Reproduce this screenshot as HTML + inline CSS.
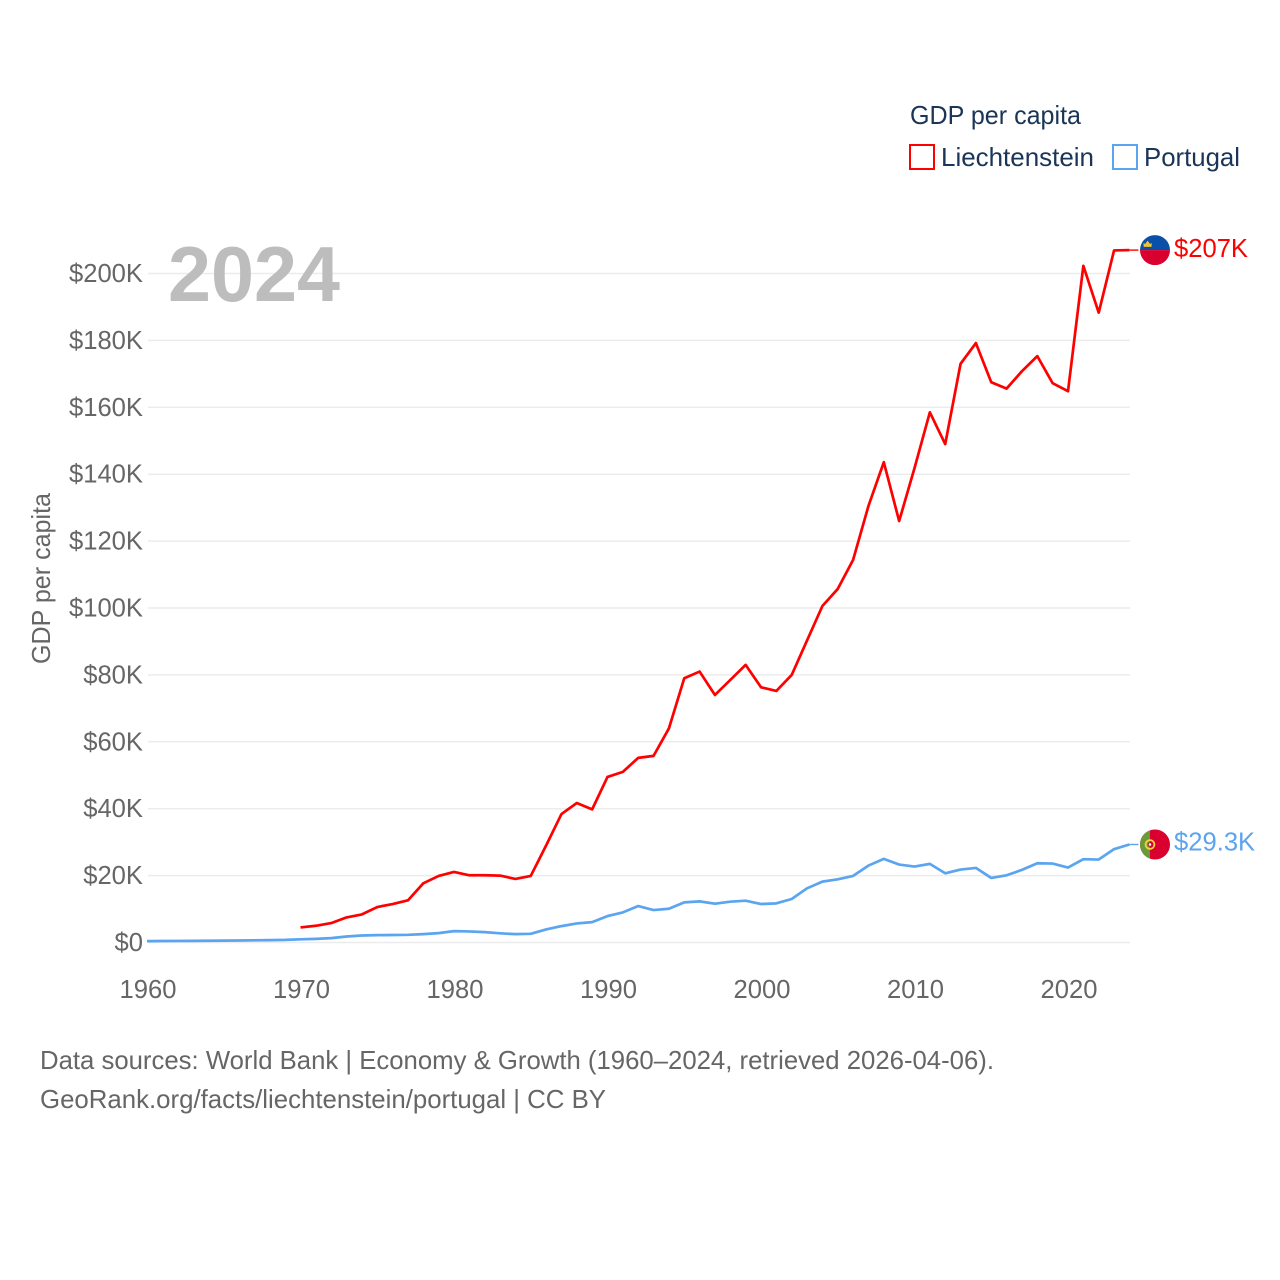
<!DOCTYPE html>
<html lang="en">
<head>
<meta charset="utf-8">
<title>GDP per capita: Liechtenstein and Portugal</title>
<style>
html,body{margin:0;padding:0;background:#fff;width:1280px;height:1280px;overflow:hidden}
svg{display:block}
text{font-family:"Liberation Sans",sans-serif}
</style>
</head>
<body>
<svg id="chart" xmlns="http://www.w3.org/2000/svg" width="1280" height="1280" viewBox="0 0 1280 1280">
  <defs>
    <clipPath id="flag-clip"><circle cx="0" cy="0" r="15"></circle></clipPath>
  </defs>
  <rect x="0" y="0" width="1280" height="1280" fill="#ffffff"></rect>

  <g id="grid"></g>
  <g id="y-ticks"></g>
  <g id="x-ticks"></g>

  <text x="168" y="301" font-size="78" font-weight="700" fill="#bdbdbd" textLength="172" lengthAdjust="spacingAndGlyphs">2024</text>
  <text transform="translate(50,664) rotate(-90)" font-size="25.6" fill="#666666" textLength="171" lengthAdjust="spacingAndGlyphs">GDP per capita</text>

  <g id="series"></g>
  <g id="ends"></g>

  <g>
    <text x="910" y="124" font-size="26" fill="#1a3557" textLength="171" lengthAdjust="spacingAndGlyphs">GDP per capita</text>
    <rect x="910" y="145" width="24" height="24" fill="none" stroke="#ff0000" stroke-width="2"></rect>
    <text x="941" y="166" font-size="26" fill="#1a3557" textLength="153" lengthAdjust="spacingAndGlyphs">Liechtenstein</text>
    <rect x="1113" y="145" width="24" height="24" fill="none" stroke="#5ba4f0" stroke-width="2"></rect>
    <text x="1144" y="166" font-size="26" fill="#1a3557" textLength="96" lengthAdjust="spacingAndGlyphs">Portugal</text>
  </g>

  <text x="40" y="1069" font-size="25.6" fill="#666666" textLength="954" lengthAdjust="spacingAndGlyphs">Data sources: World Bank | Economy &amp; Growth (1960–2024, retrieved 2026-04-06).</text>
  <text x="40" y="1108" font-size="25.6" fill="#666666" textLength="566" lengthAdjust="spacingAndGlyphs">GeoRank.org/facts/liechtenstein/portugal | CC BY</text>
</svg>
<script>
const startYear = 1960;
const yTickValues = [0, 20, 40, 60, 80, 100, 120, 140, 160, 180, 200];
const yTickLabels = ['$0', '$20K', '$40K', '$60K', '$80K', '$100K', '$120K', '$140K', '$160K', '$180K', '$200K'];
const xTickValues = [1960, 1970, 1980, 1990, 2000, 2010, 2020];
const xTickLabels = ['1960', '1970', '1980', '1990', '2000', '2010', '2020'];
const liechtensteinValues = [null, null, null, null, null, null, null, null, null, null,
  4.5, 5.0, 5.8, 7.5, 8.4, 10.6, 11.5, 12.6, 17.7, 19.9,
  21.1, 20.1, 20.1, 20.0, 19.0, 19.9, 29.0, 38.4, 41.7, 39.8,
  49.5, 51.0, 55.2, 55.8, 64.0, 79.0, 81.0, 74.0, 78.5, 83.0,
  76.3, 75.2, 80.0, 90.3, 100.6, 105.7, 114.4, 130.5, 143.6, 126.0,
  141.8, 158.5, 149.0, 173.0, 179.2, 167.5, 165.6, 170.8, 175.3, 167.2,
  164.8, 202.3, 188.3, 206.9, 207.0];
const portugalValues = [0.42, 0.44, 0.46, 0.49, 0.52, 0.56, 0.6, 0.66, 0.72, 0.78,
  0.95, 1.08, 1.3, 1.8, 2.1, 2.2, 2.25, 2.3, 2.5, 2.8,
  3.4, 3.3, 3.1, 2.75, 2.5, 2.6, 3.9, 4.9, 5.7, 6.1,
  7.9, 9.0, 10.9, 9.7, 10.1, 12.0, 12.3, 11.6, 12.2, 12.5,
  11.5, 11.7, 13.0, 16.2, 18.2, 18.9, 19.9, 23.0, 25.0, 23.3,
  22.7, 23.5, 20.7, 21.8, 22.3, 19.3, 20.1, 21.7, 23.7, 23.6,
  22.4, 24.9, 24.8, 27.9, 29.3];
const liechtensteinEndLabel = '$207K';
const portugalEndLabel = '$29.3K';

const NS = 'http://www.w3.org/2000/svg';
const xScale = year => 147 + (year - 1960) * 15.35;
const yScale = value => 942.5 - value * 3.345;

function make(tag, parent, props) {
  const el = document.createElementNS(NS, tag);
  for (const k in props) el.setAttribute(k, props[k]);
  parent.appendChild(el);
  return el;
}

const gridGroup = document.getElementById('grid');
const yTickGroup = document.getElementById('y-ticks');
const xTickGroup = document.getElementById('x-ticks');
const seriesGroup = document.getElementById('series');
const endsGroup = document.getElementById('ends');

yTickValues.forEach((v, i) => {
  const line = make('line', gridGroup, {x1: 148, x2: 1130, y1: yScale(v), y2: yScale(v), stroke: '#ececec', 'stroke-width': 1.5});
  
  
  const label = make('text', yTickGroup, {x: 143, y: yScale(v) + 8.5, 'text-anchor': 'end', 'font-size': 25.6, fill: '#666666'});
  label.textContent = yTickLabels[i];
  
  
});

xTickValues.forEach((v, i) => {
  const label = make('text', xTickGroup, {x: xScale(v) + 1, y: 998, 'text-anchor': 'middle', 'font-size': 25.6, fill: '#666666'});
  label.textContent = xTickLabels[i];
  
  
});

function linePath(values) {
  let d = '';
  values.forEach((v, i) => {
    if (v === null) return;
    d += (d ? 'L' : 'M') + xScale(startYear + i).toFixed(2) + ' ' + yScale(v).toFixed(2);
  });
  return d;
}

const portugalLine = make('path', seriesGroup, {d: linePath(portugalValues), fill: 'none', stroke: '#5ba4f0', 'stroke-width': 2.7, 'stroke-linejoin': 'round'});



const liechtensteinLine = make('path', seriesGroup, {d: linePath(liechtensteinValues), fill: 'none', stroke: '#ff0000', 'stroke-width': 2.7, 'stroke-linejoin': 'round'});



const lastIndex = portugalValues.length - 1;
const endX = xScale(startYear + lastIndex);
const liechtensteinY = yScale(liechtensteinValues[lastIndex]);
const portugalY = yScale(portugalValues[lastIndex]);

const liechtensteinLeader = make('line', endsGroup, {x1: endX, x2: endX + 9, y1: liechtensteinY, y2: liechtensteinY, stroke: '#ff0000', 'stroke-width': 1.4});



const portugalLeader = make('line', endsGroup, {x1: endX, x2: endX + 9, y1: portugalY, y2: portugalY, stroke: '#5ba4f0', 'stroke-width': 1.4});



const flagLi = make('g', endsGroup, {transform: 'translate(' + (endX + 25.6) + ',' + liechtensteinY + ')', 'clip-path': 'url(#flag-clip)'});


make('rect', flagLi, {x: -15, y: -15, width: 30, height: 15, fill: '#0a4fa8'});
make('rect', flagLi, {x: -15, y: 0, width: 30, height: 15, fill: '#d9002f'});
make('path', flagLi, {d: 'M-11.3 -3.2L-11.6 -7L-9.8 -6.2L-7.4 -9.5L-5 -6.2L-3.2 -7L-3.5 -3.2Z', fill: '#f2c230'});

const flagPt = make('g', endsGroup, {transform: 'translate(' + (endX + 25.6) + ',' + portugalY + ')', 'clip-path': 'url(#flag-clip)'});


make('rect', flagPt, {x: -15, y: -15, width: 30, height: 30, fill: '#d9002f'});
make('rect', flagPt, {x: -15, y: -15, width: 10, height: 30, fill: '#6a9a3a'});
make('circle', flagPt, {cx: -5, cy: 0, r: 4.4, fill: 'none', stroke: '#f4d23c', 'stroke-width': 1.8});
make('circle', flagPt, {cx: -5, cy: 0, r: 1.7, fill: '#ffffff', stroke: '#d9002f', 'stroke-width': 0.9});

const liechtensteinLabel = make('text', endsGroup, {x: 1174, y: liechtensteinY + 7, 'font-size': 25.6, fill: '#ff0000'});
liechtensteinLabel.textContent = liechtensteinEndLabel;



const portugalLabel = make('text', endsGroup, {x: 1174, y: portugalY + 6, 'font-size': 25.6, fill: '#5ba4f0'});
portugalLabel.textContent = portugalEndLabel;


</script>
</body>
</html>
